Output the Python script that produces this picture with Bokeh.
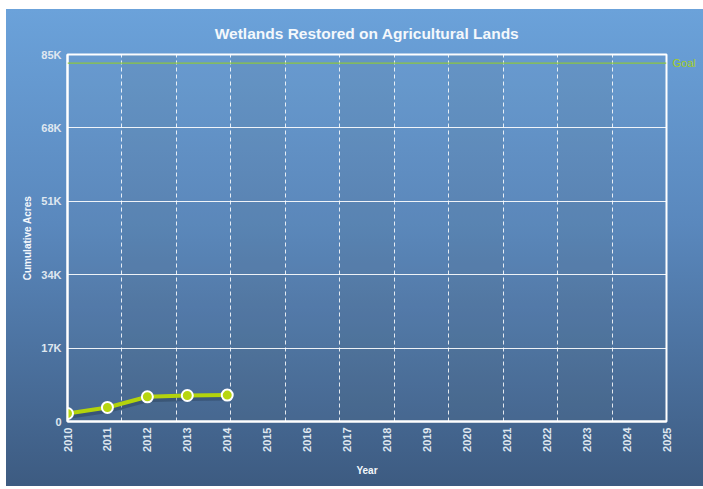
import math
from bokeh.plotting import figure
from bokeh.models import Range1d, FixedTicker, Span, LinearAxis, ColumnDataSource
from bokeh.embed import file_html
from bokeh.resources import INLINE

# ---- data ----
years = [2010, 2011, 2012, 2013, 2014]
acres = [1850, 3250, 5720, 6020, 6120]
goal = 83000
goal_label = "Goal"
x_ticks = list(range(2010, 2026))
y_ticks = [0, 17000, 34000, 51000, 68000, 85000]
y_tick_labels = ["0", "17K", "34K", "51K", "68K", "85K"]
n_bands = 11

x_min, x_max = x_ticks[0], x_ticks[-1]
y_min, y_max = y_ticks[0], y_ticks[-1]

FONT = "Liberation Sans"
LABEL_COLOR = "#dfe7f0"

p = figure(width=697, height=477,
           x_range=Range1d(x_min, x_max), y_range=Range1d(y_min, y_max),
           output_backend="svg", toolbar_location=None,
           min_border_left=61, min_border_right=37,
           min_border_top=45, min_border_bottom=65)

p.styles = {"background": "linear-gradient(to bottom, #6ba2da 0%, #5a88bd 45%, #3d5b81 100%)",
            "margin-left": "6px", "margin-top": "9px"}
p.border_fill_alpha = 0
p.background_fill_color = "#7a8a9a"
p.background_fill_alpha = 0.06
p.outline_line_color = "white"
p.outline_line_width = 2

# title
p.title.text = "Wetlands Restored on Agricultural Lands"
p.title.align = "center"
p.title.text_font = FONT
p.title.text_font_size = "15.5px"
p.title.text_font_style = "bold"
p.title.text_color = "#f4f8fc"
p.title.standoff = 25

# grids
band_ticks = [x_min + (x_max - x_min) * k / n_bands for k in range(n_bands + 1)]
p.xgrid.ticker = FixedTicker(ticks=band_ticks)
p.xgrid.grid_line_color = "white"
p.xgrid.grid_line_dash = "4 3"
p.xgrid.grid_line_alpha = 0.85
p.xgrid.band_fill_color = "#506070"
p.xgrid.band_fill_alpha = 0.10

p.ygrid.ticker = FixedTicker(ticks=y_ticks)
p.ygrid.grid_line_color = "white"
p.ygrid.grid_line_alpha = 0.9
p.ygrid.grid_line_width = 1

# axes
p.xaxis.ticker = FixedTicker(ticks=x_ticks)
p.xaxis.major_label_orientation = math.pi / 2
p.xaxis.axis_label = "Year"
p.yaxis.ticker = FixedTicker(ticks=y_ticks)
p.yaxis.major_label_overrides = {t: l for t, l in zip(y_ticks, y_tick_labels)}
p.yaxis.axis_label = "Cumulative Acres"
for ax in (p.xaxis[0], p.yaxis[0]):
    ax.axis_line_color = "white"
    ax.axis_line_width = 2
    ax.major_tick_line_color = None
    ax.minor_tick_line_color = None
    ax.major_label_text_font = FONT
    ax.major_label_text_font_style = "bold"
    ax.major_label_text_font_size = "11px"
    ax.major_label_text_color = LABEL_COLOR
    ax.axis_label_text_font = FONT
    ax.axis_label_text_font_style = "bold"
    ax.axis_label_text_font_size = "10px"
    ax.axis_label_text_color = "#f4f8fc"
p.yaxis.major_label_standoff = 0
p.xaxis.major_label_standoff = 0
p.yaxis.axis_label_standoff = 5
p.xaxis.axis_label_standoff = 10

# goal line and its label (as a right-side axis label)
p.add_layout(Span(location=goal, dimension="width", line_color="#8cc63f", line_width=1.3))
goal_axis = LinearAxis(ticker=FixedTicker(ticks=[goal]),
                       major_label_overrides={goal: goal_label})
goal_axis.axis_line_color = None
goal_axis.major_tick_line_color = None
goal_axis.minor_tick_line_color = None
goal_axis.major_label_standoff = 0
goal_axis.major_label_text_font = FONT
goal_axis.major_label_text_font_size = "11px"
goal_axis.major_label_text_color = "#a6cf1e"
p.add_layout(goal_axis, "right")

# series
px_per_unit = 367 / (y_max - y_min)
shadow_y = [a - 3 / px_per_unit for a in acres]
p.line(years, shadow_y, line_color="#1c2c40", line_alpha=0.3, line_width=5)
src = ColumnDataSource(dict(x=years, y=acres))
p.line("x", "y", source=src, line_color="#b3d30c", line_width=4)
p.scatter("x", "y", source=src, size=11, fill_color="#b7d60f", line_color="white", line_width=2)

open("out.html", "w").write(file_html(p, INLINE))
